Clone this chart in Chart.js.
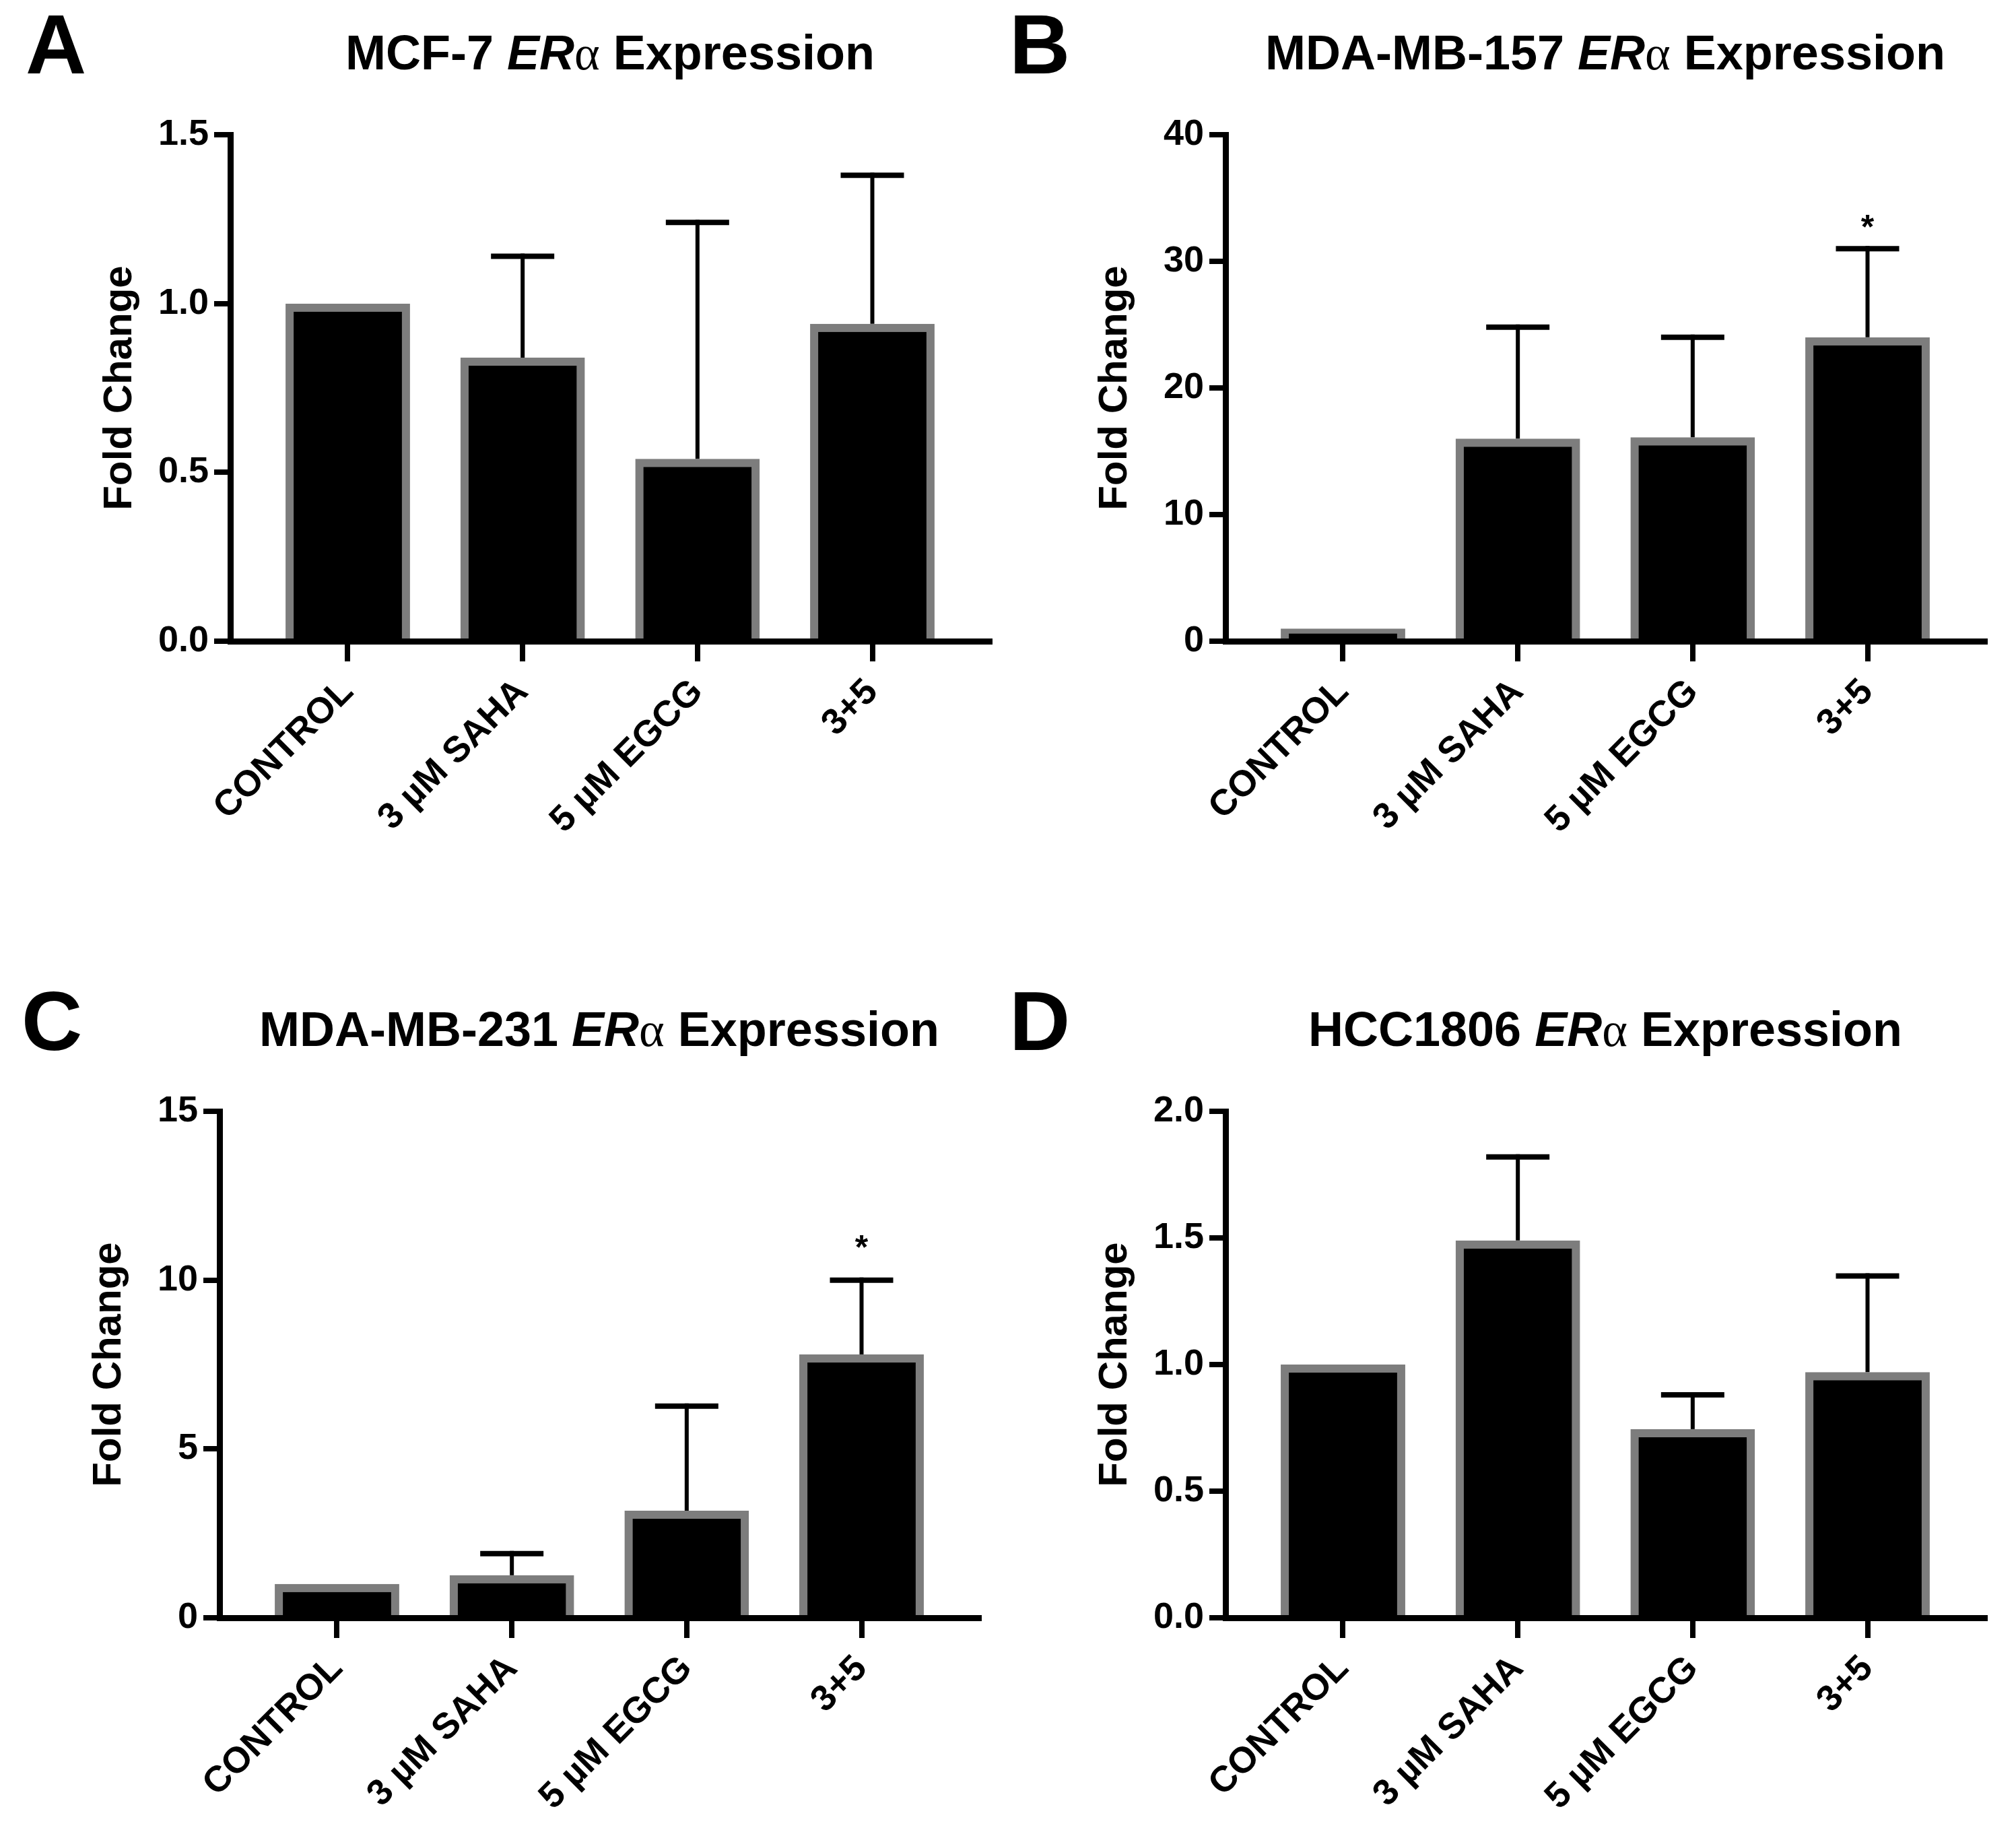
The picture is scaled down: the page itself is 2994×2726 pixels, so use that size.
<!DOCTYPE html>
<html>
<head>
<meta charset="utf-8">
<script src="https://cdn.jsdelivr.net/npm/chart.js@4.4.0/dist/chart.umd.min.js"></script>
<style>
  html, body { margin: 0; padding: 0; background: #fff; }
  #wrap { position: relative; width: 2994px; height: 2726px; background: #fff; }
  #wrap canvas { position: absolute; }
</style>
</head>
<body>
<div id="wrap">
  <canvas id="panelA" width="1497" height="1363" style="left:0px;top:0px"></canvas>
  <canvas id="panelB" width="1497" height="1363" style="left:1497px;top:0px"></canvas>
  <canvas id="panelC" width="1497" height="1363" style="left:0px;top:1363px"></canvas>
  <canvas id="panelD" width="1497" height="1363" style="left:1497px;top:1363px"></canvas>
</div>
<script>
// data
const categories = ["CONTROL", "3 µM SAHA", "5 µM EGCG", "3+5"];
const cellLines = ["MCF-7", "MDA-MB-157", "MDA-MB-231", "HCC1806"];

const meanA = [1.0, 0.84, 0.54, 0.94];
const errA = [null, 1.14, 1.24, 1.38];
const starA = ["", "", "", ""];
const ticksA = [0, 0.5, 1.0, 1.5];

const meanB = [1.0, 16.0, 16.1, 24.0];
const errB = [null, 24.8, 24.0, 31.0];
const starB = ["", "", "", "*"];
const ticksB = [0, 10, 20, 30, 40];

const meanC = [1.0, 1.26, 3.17, 7.8];
const errC = [null, 1.9, 6.27, 10.0];
const starC = ["", "", "", "*"];
const ticksC = [0, 5, 10, 15];

const meanD = [1.0, 1.49, 0.745, 0.97];
const errD = [null, 1.82, 0.88, 1.35];
const starD = ["", "", "", ""];
const ticksD = [0, 0.5, 1.0, 1.5, 2.0];

const FONT = '"Liberation Sans", Arial, Helvetica, sans-serif';
Chart.defaults.font.family = FONT;
Chart.defaults.color = "#000";

const W = 1497, H = 1363;

const panels = [
  { id: "panelA", letter: "A", cell: cellLines[0], mean: meanA, err: errA, star: starA, yTicks: ticksA, dec: 1,
    left: 342, right: 1470, top: 200, bottom: 952, letterX: 38, starGap: 50 },
  { id: "panelB", letter: "B", cell: cellLines[1], mean: meanB, err: errB, star: starB, yTicks: ticksB, dec: 0,
    left: 323, right: 1451, top: 200, bottom: 952, letterX: 2, starGap: 44 },
  { id: "panelC", letter: "C", cell: cellLines[2], mean: meanC, err: errC, star: starC, yTicks: ticksC, dec: 0,
    left: 326, right: 1454, top: 287, bottom: 1039, letterX: 32, starGap: 61 },
  { id: "panelD", letter: "D", cell: cellLines[3], mean: meanD, err: errD, star: starD, yTicks: ticksD, dec: 1,
    left: 323, right: 1451, top: 287, bottom: 1039, letterX: 2, starGap: 50 },
];

// error bars, asterisks, panel titles and letters
function makeDecor(p) {
  return {
    id: "decor",
    afterDatasetsDraw(chart) {
      const { ctx, scales: { x, y } } = chart;
      ctx.save();
      ctx.strokeStyle = "#000";
      ctx.lineCap = "butt";
      p.err.forEach((e, i) => {
        if (e == null) return;
        const px = x.getPixelForValue(i);
        const y0 = y.getPixelForValue(p.mean[i]);
        const y1 = y.getPixelForValue(e);
        ctx.lineWidth = 6;
        ctx.beginPath();
        ctx.moveTo(px, y0);
        ctx.lineTo(px, y1 - 4);
        ctx.stroke();
        ctx.lineWidth = 8;
        ctx.beginPath();
        ctx.moveTo(px - 47, y1);
        ctx.lineTo(px + 47, y1);
        ctx.stroke();
        if (p.star[i]) {
          ctx.fillStyle = "#000";
          ctx.font = "bold 50px " + FONT;
          ctx.textAlign = "center";
          ctx.textBaseline = "alphabetic";
          ctx.fillText(p.star[i], px, y1 - p.starGap + 29);
        }
      });
      ctx.restore();
    },
    afterDraw(chart) {
      const { ctx, chartArea } = chart;
      const base = chartArea.top - 97;
      const parts = [
        [p.cell + " ", "bold 72px " + FONT],
        ["ER", "italic bold 72px " + FONT],
        ["\u03B1", '72px "Liberation Serif", "Times New Roman", serif'],
        [" Expression", "bold 72px " + FONT],
      ];
      ctx.save();
      ctx.fillStyle = "#000";
      ctx.textBaseline = "alphabetic";
      ctx.textAlign = "left";
      let total = 0;
      parts.forEach(([t, f]) => { ctx.font = f; total += ctx.measureText(t).width; });
      let cx = (chartArea.left + chartArea.right) / 2 - total / 2;
      parts.forEach(([t, f]) => {
        ctx.font = f;
        ctx.fillText(t, cx, base);
        cx += ctx.measureText(t).width;
      });
      ctx.font = "bold 125px " + FONT;
      ctx.fillText(p.letter, p.letterX, base + 6);
      ctx.restore();
    },
  };
}

function makePanel(p) {
  const ctx = document.getElementById(p.id);
  const yMax = p.yTicks[p.yTicks.length - 1];
  new Chart(ctx, {
    type: "bar",
    data: {
      datasets: [{
        data: p.mean.map((v, i) => ({ x: i, y: v })),
        backgroundColor: "#000",
        borderColor: "#7d7d7d",
        borderWidth: 12,
        borderSkipped: "start",
        barPercentage: 0.712,
        categoryPercentage: 1.0,
      }],
    },
    options: {
      responsive: false,
      devicePixelRatio: 1,
      animation: false,
      events: [],
      layout: { padding: { left: p.left - 200, right: W - p.right, top: p.top, bottom: 0 } },
      plugins: { legend: { display: false }, tooltip: { enabled: false }, title: { display: false } },
      scales: {
        x: {
          type: "linear",
          min: -0.672,
          max: 3.672,
          offset: false,
          afterBuildTicks: (s) => { s.ticks = categories.map((c, i) => ({ value: i })); },
          afterFit: (s) => { s.height = H - p.bottom; },
          grid: { offset: false, drawOnChartArea: false, drawTicks: true, tickLength: 30, lineWidth: 8, color: "#000" },
          border: { display: true, color: "#000", width: 9 },
          ticks: {
            autoSkip: false,
            minRotation: 45,
            maxRotation: 45,
            padding: 14,
            color: "#000",
            font: { size: 54, weight: "bold" },
            callback: (v) => categories[v],
          },
        },
        y: {
          min: 0,
          max: yMax,
          afterBuildTicks: (s) => { s.ticks = p.yTicks.map((v) => ({ value: v })); },
          afterFit: (s) => { s.width = 200; },
          grid: { drawOnChartArea: false, drawTicks: true, tickLength: 24, lineWidth: 8, color: "#000" },
          border: { display: true, color: "#000", width: 9 },
          ticks: {
            padding: 8,
            color: "#000",
            font: { size: 54, weight: "bold" },
            callback: (v) => Number(v).toFixed(p.dec),
          },
          title: { display: true, text: "Fold Change", color: "#000", padding: 0, font: { size: 60, weight: "bold" } },
        },
      },
    },
    plugins: [makeDecor(p)],
  });
}

panels.forEach(makePanel);
</script>
</body>
</html>
